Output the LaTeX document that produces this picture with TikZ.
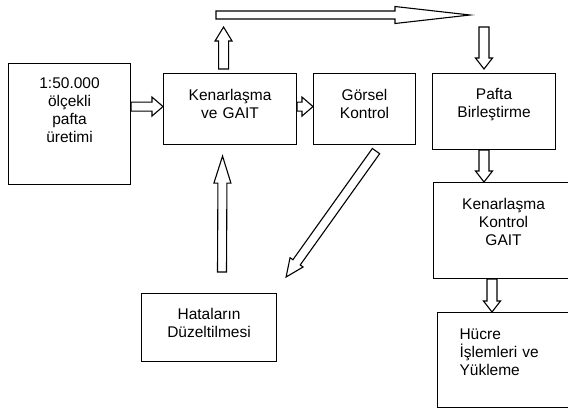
\documentclass[tikz,border=0pt]{standalone}
\usepackage{fontspec}
\setmainfont{Liberation Sans}
\usetikzlibrary{calc}

\tikzset{
  kutu/.style={draw,line width=1.1pt,inner sep=0pt,anchor=north west,align=center,
    font=\fontsize{15.5}{18}\selectfont},
  % hollow block arrow: shaft half width, head half width, head length
  blok/.style n args={3}{draw,line width=1.1pt,to path={
    let \p1=(\tikztostart), \p2=(\tikztotarget),
        \n1={atan2(\y2-\y1,\x2-\x1)}, \n2={veclen(\x2-\x1,\y2-\y1)-#3} in
    ($(\p1)+(\n1+90:#1)$) -- ($(\p1)+(\n1:\n2)+(\n1+90:#1)$)
    -- ($(\p1)+(\n1:\n2)+(\n1+90:#2)$) -- (\p2)
    -- ($(\p1)+(\n1:\n2)+(\n1-90:#2)$) -- ($(\p1)+(\n1:\n2)+(\n1-90:#1)$)
    -- ($(\p1)+(\n1-90:#1)$) -- cycle}}
}

\begin{document}
\begin{tikzpicture}[x=1pt,y=1pt]
    \useasboundingbox (0,0) rectangle (568,-408);
    \clip (0,0) rectangle (568,-408);

    \coordinate (k1) at (8,-63);
    \coordinate (k2) at (163,-73);
    \coordinate (k3) at (313,-73);
    \coordinate (k4) at (432,-73);
    \coordinate (k5) at (433,-182);
    \coordinate (k6) at (437,-312);
    \coordinate (k7) at (141,-293);

    \node[kutu,text width=122pt,text height=25pt,text depth=96pt] (uretim) at (k1) {1:50.000\\ölçekli\\pafta\\üretimi};
    \node[kutu,text width=133pt,text height=27pt,text depth=44pt] (kenar) at (k2) {Kenarlaşma\\ve GAIT};
    \node[kutu,text width=102pt,text height=27pt,text depth=44pt] (gorsel) at (k3) {Görsel\\Kontrol};
    \node[kutu,text width=123pt,text height=26pt,text depth=50pt] (pafta) at (k4) {Pafta\\Birleştirme};
    \node[kutu,text width=140pt,text height=27pt,text depth=69pt] (kontrol) at (k5) {Kenarlaşma\\Kontrol\\GAIT};
    \node[kutu,align=left,inner xsep=22pt,text width=114pt,text height=27pt,text depth=67.5pt] (hucre) at (k6) {Hücre\\İşlemleri ve\\Yükleme};
    \node[kutu,text width=135pt,text height=26pt,text depth=42pt] (hata) at (k7) {Hataların\\Düzeltilmesi};

    \coordinate (hiza) at ([yshift=2.5pt]kenar.west);
    \coordinate (cik1) at ([xshift=-6.5pt,yshift=4pt]kenar.north);
    \coordinate (cik2) at ([xshift=-6.5pt,yshift=46pt]kenar.north);
    \coordinate (ust1) at (216,-15);
    \coordinate (ust2) at (470,-15);
    \coordinate (gir1) at ([xshift=52pt,yshift=46pt]pafta.north west);
    \coordinate (gir2) at ([xshift=52pt,yshift=4pt]pafta.north west);
    \coordinate (don1) at ([xshift=81pt,yshift=21pt]hata.north west);
    \coordinate (don2) at ([xshift=-7.5pt,yshift=-11pt]kenar.south);
    \coordinate (ger1) at ([xshift=63pt,yshift=-6pt]gorsel.south west);
    \coordinate (ger2) at ([xshift=9pt,yshift=16pt]hata.north east);

    \draw[blok={4.5pt}{9.5pt}{11pt}] (uretim.east |- hiza) to (hiza);
    \draw[blok={4.5pt}{9.5pt}{11pt}] (kenar.east |- hiza) to (gorsel.west |- hiza);
    \draw[blok={5pt}{8.5pt}{14pt}] (cik1) to (cik2);
    \draw[blok={4pt}{8.5pt}{75pt}] (ust1) to (ust2);
    \draw[blok={5pt}{8.5pt}{11pt}] (gir1) to (gir2);
    \draw[blok={5pt}{8.5pt}{11pt}] ([xshift=52pt]pafta.south west) to ([xshift=51pt]kontrol.north west);
    \draw[blok={5pt}{8.5pt}{11pt}] ([xshift=59pt]kontrol.south west) to ([xshift=55pt]hucre.north west);
    \draw[blok={4.5pt}{8.5pt}{27pt}] (don1) to (don2);
    \draw[blok={4.5pt}{8pt}{18pt}] (ger1) to (ger2);
\end{tikzpicture}
\end{document}
